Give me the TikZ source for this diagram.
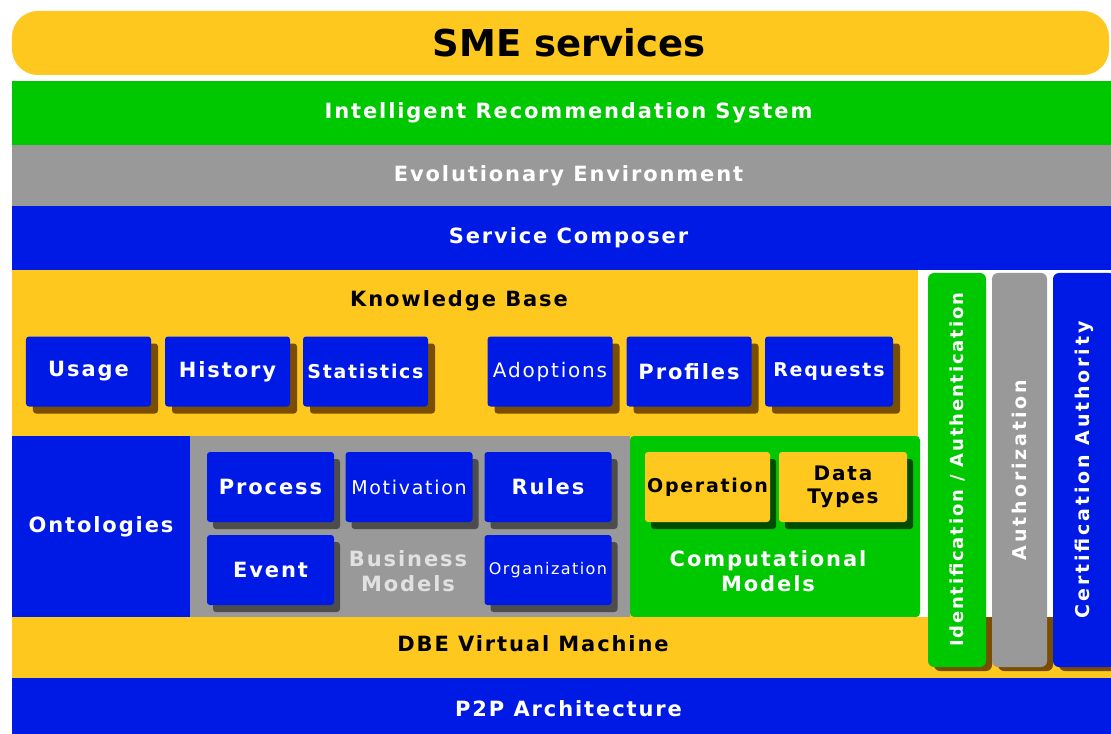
\documentclass[tikz,border=0pt]{standalone}
\usepackage{fontspec}
\setmainfont{DejaVu Sans}
\newfontfamily\lbl{DejaVu Sans}[LetterSpace=9]
\usetikzlibrary{shadows}
\definecolor{ylw}{RGB}{255,200,30}
\definecolor{grn}{RGB}{0,200,0}
\definecolor{gry}{RGB}{153,153,153}
\definecolor{blu}{RGB}{0,26,230}
\definecolor{brn}{RGB}{122,78,0}
\definecolor{dgry}{RGB}{77,77,77}
\definecolor{dgrn}{RGB}{0,77,0}
\definecolor{lgry}{RGB}{225,225,225}
\begin{document}
\begin{tikzpicture}[x=1bp,y=-1bp,
  txt/.style={font=\lbl\bfseries\fontsize{#1bp}{25bp}\selectfont, text=white, align=center},
  txt/.default=21,
  rtxt/.style={font=\lbl\fontsize{#1bp}{25bp}\selectfont, text=white, align=center},
  band/.style={inner sep=0, outer sep=0, minimum width=1113bp},
  kb/.style={fill=blu, rounded corners=3bp, minimum width=125bp, minimum height=70bp, inner sep=0,
    drop shadow={shadow xshift=7bp, shadow yshift=-7bp, fill=brn, opacity=1}},
  bb/.style={fill=blu, rounded corners=3bp, minimum width=127bp, minimum height=70bp, inner sep=0,
    drop shadow={shadow xshift=6bp, shadow yshift=-7bp, fill=dgry, opacity=1}},
  cb/.style={fill=ylw, rounded corners=3bp, minimum height=70bp, inner sep=0,
    drop shadow={shadow xshift=6bp, shadow yshift=-7bp, fill=dgrn, opacity=1}},
  bar/.style={rotate=90, rounded corners=6bp, minimum width=394bp, inner sep=0},
]
\clip (0,0) rectangle (1111,734);
\fill[white] (0,0) rectangle (1111,734);

% top title
\node[fill=ylw, rounded corners=26bp, minimum width=1097bp, minimum height=64bp, inner sep=0,
  font=\bfseries\fontsize{37bp}{40bp}\selectfont] (sme) at (560.5,43) {\hspace*{17bp}SME services};

% horizontal bands
\node[band, fill=grn, minimum height=64bp, txt] (irs) at (568.5,113) {Intelligent Recommendation System};
\node[band, fill=gry, minimum height=61bp, txt] (evo) at (568.5,175.5) {Evolutionary Environment};
\node[band, fill=blu, minimum height=64bp, txt] (sc) at (568.5,238) {Service Composer};

% knowledge base area
\fill[ylw] (12,270) rectangle (918,617);
\node[txt, text=black] (kbase) at (459,301) {Knowledge Base};

\node[kb, txt] (usage) at (88.5,371.5) {Usage};
\node[kb, txt] (hist) at (227.5,371.5) {History};
\node[kb, txt=19] (stat) at (365.5,371.5) {Statistics};
\node[kb, rtxt=20] (adop) at (550,371.5) {Adoptions};
\node[kb, txt] (prof) at (689,371.5) {Profiles};
\node[kb, txt=19, minimum width=128bp] (req) at (829,371.5) {Requests};

% ontologies
\node[fill=blu, minimum width=178bp, minimum height=181bp, inner sep=0, txt] (onto) at (101,526.5) {Ontologies};

% business models
\node[fill=gry, minimum width=440bp, minimum height=181bp, inner sep=0] (bm) at (410,526.5) {};
\node[bb, txt] (proc) at (270.5,487) {Process};
\node[bb, rtxt=19] (motiv) at (409,487) {Motivation};
\node[bb, txt] (rules) at (548,487) {Rules};
\node[bb, txt] (event) at (270.5,570) {Event};
\node[bb, rtxt=16] (org) at (548,570) {Organization};
\node[txt, text=lgry] (bmt) at (408,571) {Business\\Models};

% computational models
\node[fill=grn, rounded corners=4bp, minimum width=290bp, minimum height=181bp, inner sep=0] (cm) at (775,526.5) {};
\node[cb, txt=19, text=black, minimum width=125bp] (oper) at (707.5,487) {Operation};
\node[cb, txt, text=black, minimum width=128bp, font=\lbl\bfseries\fontsize{20bp}{23bp}\selectfont] (dtyp) at (843,487) {Data\\Types};
\node[txt] (cmt) at (768,571) {Computational\\Models};

% DBE virtual machine & P2P
\node[band, fill=ylw, minimum height=61bp] (dbe) at (568.5,647.5) {};
\node[txt, text=black] (dbet) at (533,644) {DBE Virtual Machine};
\node[band, fill=blu, minimum height=62bp, txt] (p2p) at (568.5,709) {P2P Architecture};

% vertical bars: shadows on the DBE band
\begin{scope}
  \clip (918,617) rectangle (1111,678);
  \fill[brn, rounded corners=6bp] (934,277) rectangle (992,671);
  \fill[brn, rounded corners=6bp] (998,277) rectangle (1053,671);
  \fill[brn, rounded corners=6bp] (1059,277) rectangle (1122,671);
\end{scope}
\node[bar, fill=grn, minimum height=58bp, txt=18] (idauth) at (957,470) {\addfontfeature{LetterSpace=10}Identification / Authentication};
\node[bar, fill=gry, minimum height=55bp, txt=19] (authz) at (1019.5,470) {\addfontfeature{LetterSpace=15}Authorization};
\node[bar, fill=blu, minimum height=62bp, txt=19] (ca) at (1084,470) {\addfontfeature{LetterSpace=15}Certification Authority};
\end{tikzpicture}
\end{document}
